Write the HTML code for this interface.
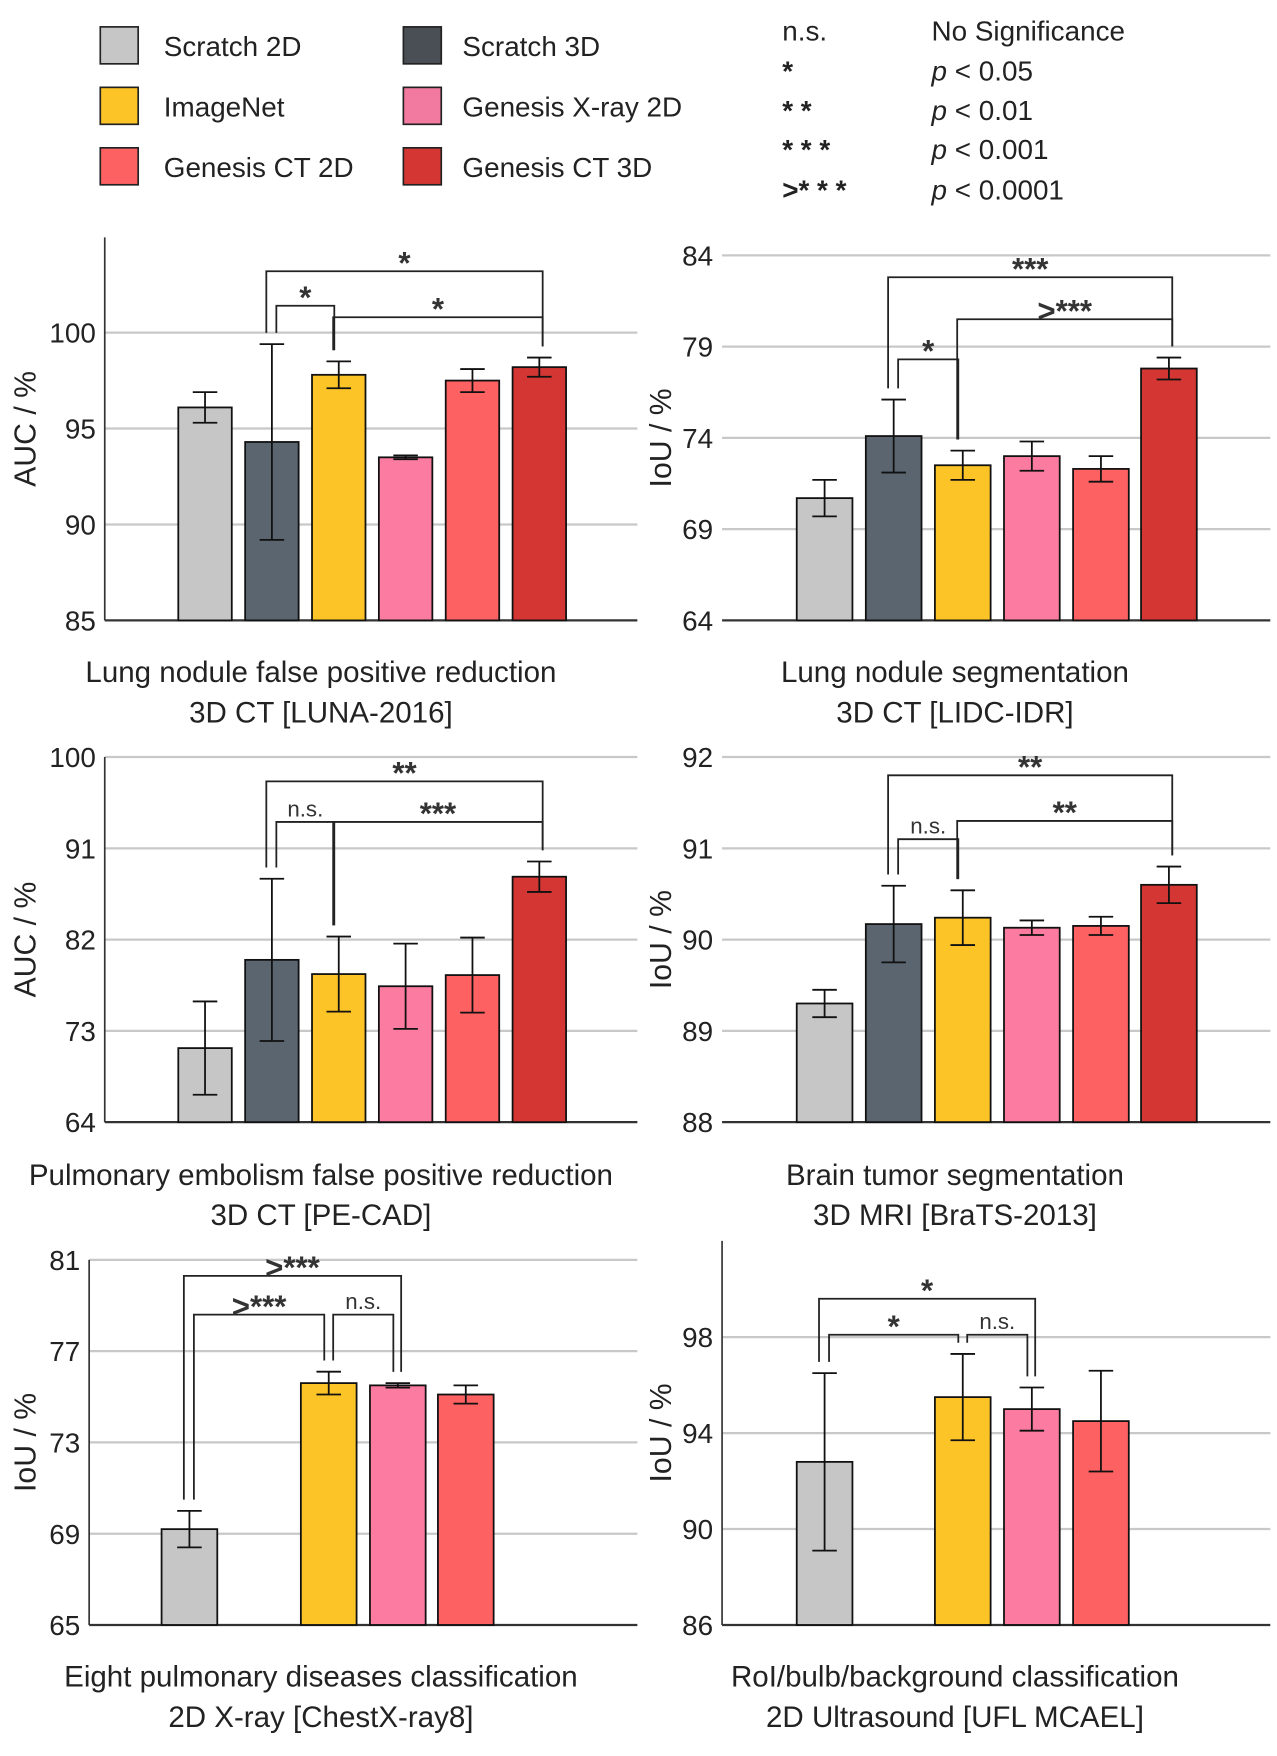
<!DOCTYPE html>
<html><head><meta charset="utf-8"><style>
html,body{margin:0;padding:0;background:#fff;}
svg{display:block;font-family:"Liberation Sans","DejaVu Sans",sans-serif;}
</style></head><body>
<svg id="fig" width="1277" height="1756" viewBox="0 0 1146 1568" preserveAspectRatio="none" xmlns="http://www.w3.org/2000/svg">
<g font-size="25" fill="#222">
<rect x="90" y="24" width="34" height="33" fill="#c6c6c6" stroke="#222" stroke-width="1.5"/><text x="147" y="50">Scratch 2D</text>
<rect x="90" y="78" width="34" height="33" fill="#fdc427" stroke="#222" stroke-width="1.5"/><text x="147" y="104">ImageNet</text>
<rect x="90" y="132" width="34" height="33" fill="#fd6162" stroke="#222" stroke-width="1.5"/><text x="147" y="158">Genesis CT 2D</text>
<rect x="362" y="24" width="34" height="33" fill="#4a4f55" stroke="#222" stroke-width="1.5"/><text x="415" y="50">Scratch 3D</text>
<rect x="362" y="78" width="34" height="33" fill="#f27aa0" stroke="#222" stroke-width="1.5"/><text x="415" y="104">Genesis X-ray 2D</text>
<rect x="362" y="132" width="34" height="33" fill="#d33633" stroke="#222" stroke-width="1.5"/><text x="415" y="158">Genesis CT 3D</text>
</g>
<g font-size="25" fill="#222">
<text x="702" y="36">n.s.</text><text x="836" y="36">No Significance</text>
<text x="702" y="72" font-weight="bold">*</text><text x="836" y="72"><tspan font-style="italic">p</tspan> &lt; 0.05</text>
<text x="702" y="107" font-weight="bold">* *</text><text x="836" y="107"><tspan font-style="italic">p</tspan> &lt; 0.01</text>
<text x="702" y="142" font-weight="bold">* * *</text><text x="836" y="142"><tspan font-style="italic">p</tspan> &lt; 0.001</text>
<text x="702" y="178" font-weight="bold">&gt;* * *</text><text x="836" y="178"><tspan font-style="italic">p</tspan> &lt; 0.0001</text>
</g>
<g id="charts"></g>
</svg>
<script>
const colors=["#c6c6c6","#5a6570","#fdc427","#fb7ba1","#fd6162","#d33633"];
// chart 1
const c1Ticks=[85,90,95,100];
const c1Series=[0,1,2,3,4,5];
const c1Values=[96.1,94.3,97.8,93.5,97.5,98.2];
const c1Errors=[0.8,5.1,0.7,0.1,0.6,0.5];
const c1Brackets=[[1,5,103.2,"*"],[1,2,101.4,"*"],[2,5,100.8,"*"]];
// chart 2
const c2Ticks=[64,69,74,79,84];
const c2Series=[0,1,2,3,4,5];
const c2Values=[70.7,74.1,72.5,73.0,72.3,77.8];
const c2Errors=[1.0,2.0,0.8,0.8,0.7,0.6];
const c2Brackets=[[1,5,82.8,"***"],[2,5,80.5,">***"],[1,2,78.3,"*"]];
// chart 3
const c3Ticks=[64,73,82,91,100];
const c3Series=[0,1,2,3,4,5];
const c3Values=[71.3,80.0,78.6,77.4,78.5,88.2];
const c3Errors=[4.6,8.0,3.7,4.2,3.7,1.5];
const c3Brackets=[[1,5,97.6,"**"],[1,2,93.6,"n.s."],[2,5,93.6,"***"]];
// chart 4
const c4Ticks=[88,89,90,91,92];
const c4Series=[0,1,2,3,4,5];
const c4Values=[89.3,90.17,90.24,90.13,90.15,90.6];
const c4Errors=[0.15,0.42,0.3,0.08,0.1,0.2];
const c4Brackets=[[1,5,91.8,"**"],[1,2,91.1,"n.s."],[2,5,91.3,"**"]];
// chart 5
const c5Ticks=[65,69,73,77,81];
const c5Series=[0,2,3,4];
const c5Values=[69.2,75.6,75.5,75.1];
const c5Errors=[0.8,0.5,0.1,0.4];
const c5Brackets=[[0,2,80.3,">***"],[0,1,78.6,">***"],[1,2,78.6,"n.s."]];
// chart 6
const c6Ticks=[86,90,94,98];
const c6Series=[0,2,3,4];
const c6Values=[92.8,95.5,95.0,94.5];
const c6Errors=[3.7,1.8,0.9,2.1];
const c6Brackets=[[0,2,99.6,"*"],[0,1,98.1,"*"],[1,2,98.1,"n.s."]];

const NS="http://www.w3.org/2000/svg";
function mk(tag,attrs,parent){const e=document.createElementNS(NS,tag);for(const k in attrs)e.setAttribute(k,attrs[k]);parent.appendChild(e);return e;}
const layouts=[
 {x0:94,x1:572,yTop:212,yMaxTick:297,yBot:554,centers:[184,244,304,364,424,484],bw:48,yl:"AUC / %",ylx:22,t1:"Lung nodule false positive reduction",t2:"3D CT [LUNA-2016]",ty:600,tc:288,axis:true,ticks:c1Ticks,series:c1Series,vals:c1Values,errs:c1Errors,br:c1Brackets,name:"lung-nodule-fpr-chart"},
 {x0:648,x1:1140,yTop:228,yMaxTick:228,yBot:554,centers:[740,802,864,926,988,1049],bw:50,yl:"IoU / %",ylx:592,t1:"Lung nodule segmentation",t2:"3D CT [LIDC-IDR]",ty:600,tc:857,axis:false,ticks:c2Ticks,series:c2Series,vals:c2Values,errs:c2Errors,br:c2Brackets,name:"lung-nodule-seg-chart"},
 {x0:94,x1:572,yTop:676,yMaxTick:676,yBot:1002,centers:[184,244,304,364,424,484],bw:48,yl:"AUC / %",ylx:22,t1:"Pulmonary embolism false positive reduction",t2:"3D CT [PE-CAD]",ty:1049,tc:288,axis:true,ticks:c3Ticks,series:c3Series,vals:c3Values,errs:c3Errors,br:c3Brackets,name:"pe-fpr-chart"},
 {x0:648,x1:1140,yTop:676,yMaxTick:676,yBot:1002,centers:[740,802,864,926,988,1049],bw:50,yl:"IoU / %",ylx:592,t1:"Brain tumor segmentation",t2:"3D MRI [BraTS-2013]",ty:1049,tc:857,axis:false,ticks:c4Ticks,series:c4Series,vals:c4Values,errs:c4Errors,br:c4Brackets,name:"brain-tumor-chart"},
 {x0:80,x1:572,yTop:1125,yMaxTick:1125,yBot:1451,centers:[170,295,357,418],bw:50,yl:"IoU / %",ylx:22,t1:"Eight pulmonary diseases classification",t2:"2D X-ray [ChestX-ray8]",ty:1497,tc:288,axis:true,ticks:c5Ticks,series:c5Series,vals:c5Values,errs:c5Errors,br:c5Brackets,name:"chestxray-chart"},
 {x0:648,x1:1140,yTop:1108,yMaxTick:1194,yBot:1451,centers:[740,864,926,988],bw:50,yl:"IoU / %",ylx:592,t1:"RoI/bulb/background  classification",t2:"2D Ultrasound [UFL MCAEL]",ty:1497,tc:857,axis:true,ticks:c6Ticks,series:c6Series,vals:c6Values,errs:c6Errors,br:c6Brackets,name:"ultrasound-chart"}
];
const root=document.getElementById('charts');
layouts.forEach(L=>{
 const g=mk('g',{},root);
 
 
 const t=L.ticks,tmin=t[0],tmax=t[t.length-1];
 const y=v=>L.yBot-(v-tmin)/(tmax-tmin)*(L.yBot-L.yMaxTick);
 t.forEach((v,i)=>{
  if(i>0){const gl=mk('line',{x1:L.x0,x2:L.x1,y1:y(v),y2:y(v),stroke:'#c8c8c8','stroke-width':2},g);
   }
  const tl=mk('text',{x:L.x0-8,y:y(v)+9,'text-anchor':'end','font-size':25,fill:'#222'},g);
  tl.textContent=v;
  
 });
 const base=mk('line',{x1:L.x0,x2:L.x1,y1:L.yBot,y2:L.yBot,stroke:'#333','stroke-width':2},g);
 
 if(L.axis){const ax=mk('line',{x1:L.x0,x2:L.x0,y1:L.yTop,y2:L.yBot,stroke:'#333','stroke-width':1.5},g);
  }
 const tops=[];
 L.vals.forEach((v,i)=>{
  const cx=L.centers[i],yt=y(v);
  const r=mk('rect',{x:cx-L.bw/2,y:yt,width:L.bw,height:L.yBot-yt,fill:colors[L.series[i]],stroke:'#111','stroke-width':1.6},g);
  
  const e=L.errs[i],ya=y(v+e),yb=y(v-e);tops.push(ya);
  const eg=mk('g',{stroke:'#111','stroke-width':1.6},g);
  
  mk('line',{x1:cx,x2:cx,y1:ya,y2:yb},eg);
  mk('line',{x1:cx-11,x2:cx+11,y1:ya,y2:ya},eg);
  mk('line',{x1:cx-11,x2:cx+11,y1:yb,y2:yb},eg);
 });
 L.br.forEach(b=>{
  const [i,j,lv,lab]=b;const by=y(lv);
  const wide=(j-i)>1;
  const xl=L.centers[i]+(wide?-5:4), xr=L.centers[j]+(wide? 3:-4);
  const bg=mk('g',{},g);
  
  mk('polyline',{points:`${xl},${tops[i]-10} ${xl},${by} ${xr},${by} ${xr},${tops[j]-10}`,fill:'none',stroke:'#222','stroke-width':1.6},bg);
  const ns=lab==='n.s.';
  const lt=mk('text',{x:(xl+xr)/2,y:ns?by-5:by+2,'text-anchor':'middle','font-size':ns?20:28,'font-weight':ns?'normal':'bold',fill:'#333'},bg);
  lt.textContent=lab;
 });
 const yl=mk('text',{x:0,y:0,'text-anchor':'middle','font-size':27,fill:'#222',transform:`translate(${L.ylx+10},${(L.yTop+L.yBot)/2}) rotate(-90)`},g);
 yl.textContent=L.yl;
 
 [L.t1,L.t2].forEach((s,k)=>{
  const tt=mk('text',{x:L.tc,y:L.ty+9+k*36,'text-anchor':'middle','font-size':26.5,fill:'#222'},g);
  tt.textContent=s;
  
 });
});
</script>
</body></html>
